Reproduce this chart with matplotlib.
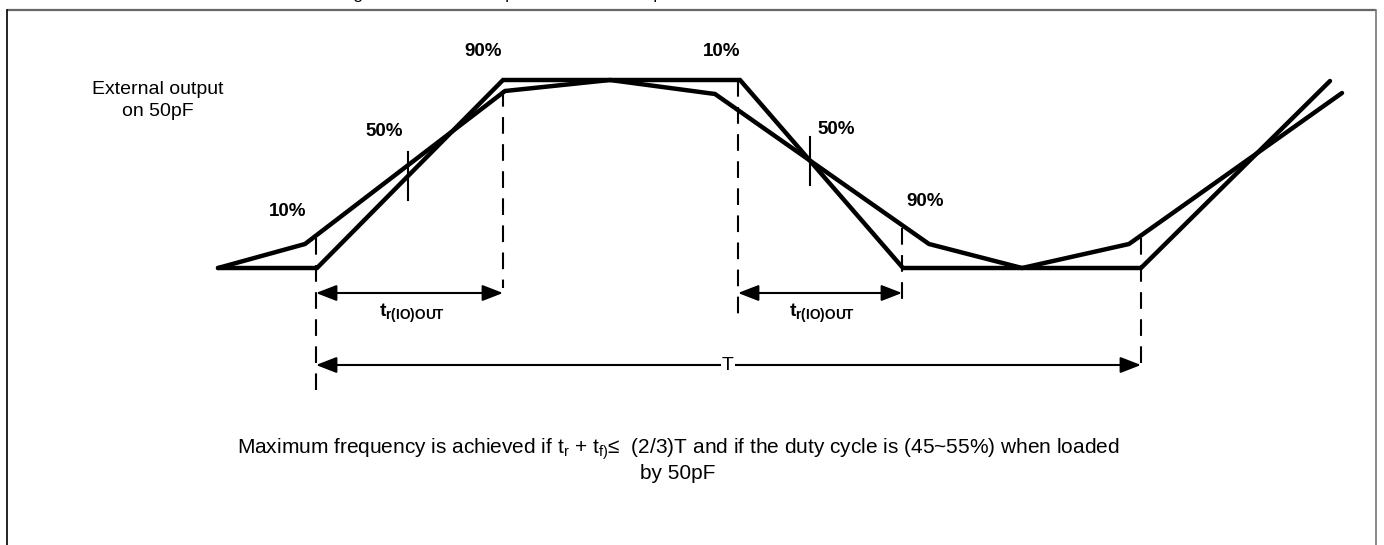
import matplotlib
matplotlib.use("Agg")
import matplotlib.pyplot as plt
from matplotlib.patches import ArrowStyle

plt.rcParams['font.family'] = ['Liberation Sans', 'DejaVu Sans']
plt.rcParams['mathtext.fontset'] = 'custom'
plt.rcParams['mathtext.rm'] = 'Liberation Sans'
plt.rcParams['mathtext.it'] = 'Liberation Sans:italic'
plt.rcParams['mathtext.bf'] = 'Liberation Sans:bold'

# waveforms (time, level) in drawing units
ideal_t = [218, 317, 503, 740, 903, 1141, 1330]
ideal_v = [268, 268, 80, 80, 268, 268, 81]
rc_t = [218, 305, 505, 610, 715, 929, 1022, 1129, 1342]
rc_v = [268, 244, 91, 80, 94, 244, 268, 244, 93]

# dashed reference verticals
ref_t = [316, 503, 738, 902, 1141]
ref_top = [238, 90, 80, 228, 238]
ref_bot = [390, 288, 318, 305, 372]

# short 50% marks
mid_t = [408, 810]
mid_v = [176, 161]

pct_labels = ['90%', '10%', '50%', '10%', '50%', '90%']
pct_t = [483, 722, 384, 288, 836, 925]
pct_v = [52, 52, 131, 212, 129, 201]

# timing arrows: (start, end, level)
tr_arrows = [(316, 503, 293), (738, 902, 293)]
tr_label_t = [379, 789]
period = (316, 1141, 365)

note = ("Maximum frequency is achieved if t$_\\mathrm{r}$ + t$_\\mathrm{f)}$\u2264  (2/3)T "
        "and if the duty cycle is (45~55%) when loaded\nby 50pF")

fig = plt.figure(figsize=(13.84, 5.45), dpi=100)
ax = fig.add_axes([0, 0, 1, 1])
ax.set_xlim(0, 1384)
ax.set_ylim(545, 0)
ax.axis('off')

# frame
ax.plot([7, 1376], [9.5, 9.5], color='#666666', lw=1.6, solid_capstyle='butt')
ax.plot([7, 7], [9.5, 560], color='black', lw=1.2)
ax.plot([1375.5, 1375.5], [9.5, 560], color='#777777', lw=1.2)

# caption above the frame, cropped so only descenders remain
ax.text(339, -0.6, 'Figure 3. External output waveform at 50pF',
        fontsize=12.5, ha='left', va='baseline')

ax.plot(ideal_t, ideal_v, color='black', lw=3.2, solid_capstyle='round',
        solid_joinstyle='miter')
ax.plot(rc_t, rc_v, color='black', lw=3.2, solid_capstyle='round',
        solid_joinstyle='miter')

for t, y0, y1 in zip(ref_t, ref_top, ref_bot):
    ax.plot([t, t], [y0, y1], color='black', lw=1.5, dashes=(8, 5))

for t, v in zip(mid_t, mid_v):
    ax.plot([t, t], [v - 24, v + 24], color='black', lw=1.5)

for s, t, v in zip(pct_labels, pct_t, pct_v):
    ax.text(t, v, s, fontsize=13.5, fontweight='bold', ha='center', va='center')

ax.text(158, 89, 'External output', fontsize=14, ha='center', va='center')
ax.text(158, 111, 'on 50pF', fontsize=14, ha='center', va='center')

astyle = ArrowStyle('<|-|>', head_length=0.9, head_width=0.35)
for (a, b, v), lt in zip(tr_arrows, tr_label_t):
    ax.annotate('', xy=(b, v), xytext=(a, v),
                arrowprops=dict(arrowstyle=astyle, mutation_scale=14, lw=1.5,
                                color='black', shrinkA=0, shrinkB=0))
    ax.text(lt, 317, r'$\mathbf{t}_{\mathbf{r(IO)OUT}}$', fontsize=14,
            ha='left', va='baseline')

a, b, v = period
ax.annotate('', xy=(b, v), xytext=(a, v),
            arrowprops=dict(arrowstyle=astyle, mutation_scale=14, lw=1.5,
                            color='black', shrinkA=0, shrinkB=0))
ax.text(728, v, 'T', fontsize=14, ha='center', va='center',
        bbox=dict(facecolor='white', edgecolor='none', pad=1))

ax.text(678, 460, note, fontsize=15, ha='center', va='center',
        linespacing=1.15)

fig.savefig('out.png', dpi=100)
